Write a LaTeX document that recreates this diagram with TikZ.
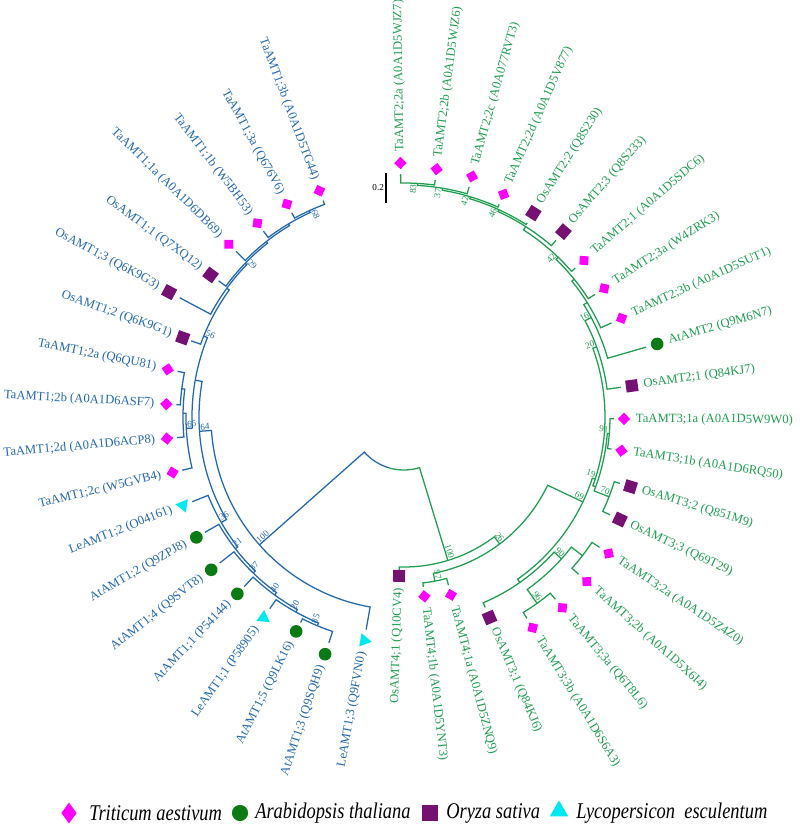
\documentclass[tikz,border=0pt]{standalone}
\usepackage{fontspec}
\setmainfont{Liberation Serif}
\usepackage{xcolor}
\definecolor{amtblue}{HTML}{2268AE}
\definecolor{amtgreen}{HTML}{1E9E50}
\definecolor{tamag}{HTML}{FF00FF}
\definecolor{atgreen}{HTML}{0A7A14}
\definecolor{ospurple}{HTML}{741173}
\definecolor{lecyan}{HTML}{00E8F0}
\usetikzlibrary{shapes.geometric}
\newcommand{\legtext}[1]{\scalebox{0.82}[1]{\itshape\fontsize{16}{18}\selectfont #1}}

\begin{document}
\begin{tikzpicture}[scale=0.025,
  branch/.style={line width=0.9pt},
  bluebranch/.style={branch,draw=amtblue},
  greenbranch/.style={branch,draw=amtgreen},
  leaflab/.style={font=\fontsize{9}{10}\selectfont,inner sep=0.5pt},
  bootlab/.style={font=\fontsize{6.5}{7}\selectfont,inner sep=0.6pt},
  legendlab/.style={anchor=west,inner sep=0pt},
  mkta/.style={diamond,fill=tamag,inner sep=0pt,minimum width=9pt,minimum height=9pt},
  mkos/.style={rectangle,fill=ospurple,inner sep=0pt,minimum size=8.5pt},
  mkat/.style={circle,fill=atgreen,inner sep=0pt,minimum size=9pt},
  mkle/.style={regular polygon,regular polygon sides=3,fill=lecyan,inner sep=0pt,minimum size=11pt},
]
  \useasboundingbox (-404,-419) rectangle (396,417);

  % root
  \draw[bluebranch] (221.5:193) -- (221.5:53) arc[start angle=221.5,end angle=254,radius=53];
  \draw[greenbranch] (254:53) arc[start angle=254,end angle=287,radius=53] -- (287:150);

  % AMT1 clade: child angle/radius, child angle/radius, node radius
  \foreach \aa/\ra/\ab/\rb/\r in {
      110.5/231/118.8/233/227, 114.65/227/127.1/233/225, 120.9/225/135.4/236/223,
      128.1/223/143.7/230/221, 135.9/221/152/254/219, 144/219/160.3/226/216,
      168.6/231/176.9/228/224, 172.75/224/185.2/228/221, 179/221/193.5/228/218,
      158/216/183/218/212, 243.3/230/251.6/238/226, 235/234/247.45/226/223,
      226.7/233/241/223/220, 218.4/235/234/220/217, 210.1/230/226/217/214,
      201.8/228/218/214/211, 170/212/210/211/205, 184/205/259.9/216/193}
    \draw[bluebranch] (\aa:\ra) -- (\aa:\r) arc[start angle=\aa,end angle=\ab,radius=\r] -- (\ab:\rb);

  % AMT2 / AMT3 / AMT4 clade
  \foreach \aa/\ra/\ab/\rb/\r in {
      276.5/171/284.8/174/167, 301.4/236/309.7/237/229, 318/235/326.3/235/226,
      305.55/229/322.15/226/212, 293.1/207/318/212/202, 334.6/228/342.9/226/220,
      351.2/210/359.5/210/206, 338.75/220/355.35/206/204, 442.5/239/450.8/243/234,
      434.2/239/446.65/234/232, 425.9/233/440.4/232/230, 417.6/230/433.2/230/228,
      409.3/233/425.4/228/226, 401/227/417.4/226/222, 392.7/227/406/222/219,
      384.4/228/399/219/216, 376.1/252/392/216/212, 367.8/219/388/212/205,
      340/204/380/205/201, 305/202/342/201/198, 280.65/167/334.6/198/159,
      268.2/153/307/159/150}
    \draw[greenbranch] (\aa:\ra) -- (\aa:\r) arc[start angle=\aa,end angle=\ab,radius=\r] -- (\ab:\rb);

  % bootstrap values
  \foreach \a/\r/\t [count=\i] in {114.65/227/68, 135.9/221/29, 158/216/56, 183/218/65,
      184/205/64, 210/211/36, 218/214/21, 226/217/37, 234/220/40, 241/223/20,
      247.45/226/85, 221.5/193/100}
    \node[bootlab,text=amtblue,rotate=\a-180,anchor=south west] (bb\i) at (\a:\r) {\t};
  \foreach \a/\r/\t [count=\i] in {280.65/167/97, 305.55/229/96, 318/212/90, 338.75/220/70,
      355.35/206/91, 446.65/234/83, 440.4/232/37, 433.2/230/42, 425.4/228/46,
      406/222/42, 388/212/16, 380/205/20, 342/201/19, 334.6/198/69, 307/159/26,
      287/150/100}
    \node[bootlab,text=amtgreen,rotate=\a,anchor=south east] (bg\i) at (\a:\r) {\t};

  % leaves, left half
  \foreach \a/\m/\t/\lab [count=\i] in {
      110.5/241.5/mkta/TaAMT1;3b (A0A1D5TG44), 118.8/243/mkta/TaAMT1;3a (Q676V6),
      127.1/243/mkta/TaAMT1;1b (W5BH53), 135.4/246/mkta/TaAMT1;1a (A0A1D6DB69),
      143.7/240/mkos/OsAMT1;1 (Q7XQ12), 152/266/mkos/OsAMT1;3 (Q6K9G3),
      160.3/235/mkos/OsAMT1;2 (Q6K9G1), 168.6/241/mkta/TaAMT1;2a (Q6QU81),
      176.9/238/mkta/TaAMT1;2b (A0A1D6ASF7), 185.2/238/mkta/TaAMT1;2d (A0A1D6ACP8),
      193.5/238/mkta/TaAMT1;2c (W5GVB4), 201.8/238/mkle/LeAMT1;2 (O04161),
      210.1/240/mkat/AtAMT1;2 (Q9ZPJ8), 218.4/246/mkat/AtAMT1;4 (Q9SVT8),
      226.7/243/mkat/AtAMT1;1 (P54144), 235/245/mkle/LeAMT1;1 (P58905),
      243.3/240/mkat/AtAMT1;5 (Q9LK16), 251.6/250/mkat/AtAMT1;3 (Q9SQH9),
      259.9/227/mkle/LeAMT1;3 (Q9FVN0)} {
    \node[\t,rotate=\a] (m\i) at (\a:\m) {};
    \node[leaflab,text=amtblue,rotate=\a-180,anchor=east] (l\i) at ({\a}:{\m+11}) {\lab};
  }
  \node[mkos,rotate=268.2] (m20) at (268.2:159) {};
  \node[leaflab,text=amtgreen,rotate=88.2,anchor=east] (l20) at (268.2:170) {OsAMT4;1 (Q10CV4)};

  % leaves, right half
  \foreach \a/\m/\t/\lab [count=\i from 21] in {
      276.5/180.5/mkta/TaAMT4;1b (A0A1D5YNT3), 284.8/184/mkta/TaAMT4;1a (A0A1D5ZNQ9),
      293.1/218/mkos/OsAMT3;1 (Q84KJ6), 301.4/247/mkta/TaAMT3;3b (A0A1D6S6A3),
      309.7/248/mkta/TaAMT3;3a (Q6T8L6), 318/246/mkta/TaAMT3;2b (A0A1D5X6I4),
      326.3/246/mkta/TaAMT3;2a (A0A1D5Z4Z0), 334.6/239/mkos/OsAMT3;3 (Q69T29),
      342.9/237/mkos/OsAMT3;2 (Q851M9), 351.2/220/mkta/TaAMT3;1b (A0A1D6RQ50),
      359.5/220/mkta/TaAMT3;1a (A0A1D5W9W0), 367.8/230/mkos/OsAMT2;1 (Q84KJ7),
      376.1/263.5/mkat/AtAMT2 (Q9M6N7), 384.4/239/mkta/TaAMT2;3b (A0A1D5SUT1),
      392.7/238/mkta/TaAMT2;3a (W4ZRK3), 401/238.5/mkta/TaAMT2;1 (A0A1D5SDC6),
      409.3/244.5/mkos/OsAMT2;3 (Q8S233), 417.6/241.5/mkos/OsAMT2;2 (Q8S230),
      425.9/244/mkta/TaAMT2;2d (A0A1D5V877), 434.2/250/mkta/TaAMT2;2c (A0A077RVT3),
      442.5/250/mkta/TaAMT2;2b (A0A1D5WJZ6), 450.8/254/mkta/TaAMT2;2a (A0A1D5WJZ7)} {
    \node[\t,rotate=\a] (m\i) at (\a:\m) {};
    \node[leaflab,text=amtgreen,rotate=\a,anchor=west] (l\i) at ({\a}:{\m+11}) {\lab};
  }

  % scale bar
  \coordinate (sbtop) at (-18,244);
  \coordinate (sbbot) at (-18,214);
  \draw[line width=1.4pt] (sbtop) -- (sbbot);
  \node[bootlab,anchor=east] (sblab) at (-19,229) {0.2};

  % legend
  \node[mkta,minimum width=11pt,minimum height=15pt] (kta) at (-335,-396) {};
  \node[legendlab] (ltta) at (-315,-396) {\legtext{Triticum aestivum}};
  \node[mkat,minimum size=11.5pt] (kat) at (-164,-396) {};
  \node[legendlab] (ltat) at (-149,-396) {\legtext{Arabidopsis thaliana}};
  \node[mkos,minimum size=11pt] (kos) at (26,-396) {};
  \node[legendlab] (ltos) at (42,-396) {\legtext{Oryza sativa}};
  \node[mkle,minimum size=15pt] (kle) at (155,-394) {};
  \node[legendlab] (ltle) at (172,-396) {\legtext{Lycopersicon\ \ esculentum}};
\end{tikzpicture}
\end{document}
